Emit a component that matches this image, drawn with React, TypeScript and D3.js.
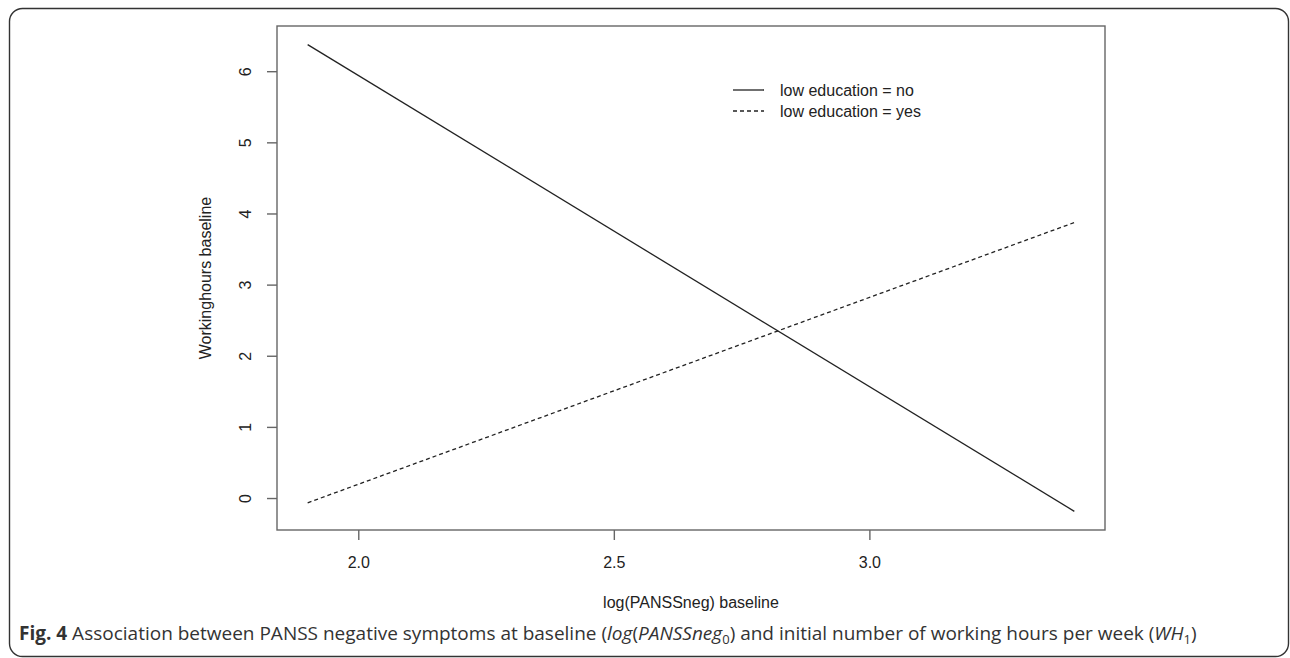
import React from "react";
import * as d3 from "d3";

// fitted lines, evaluated at the two ends of the observed range
const pansLog = [1.9, 3.4];
const lowEduNo = [6.38, -0.18];
const lowEduYes = [-0.06, 3.88];

const xTicks = [2.0, 2.5, 3.0];
const yTicks = [0, 1, 2, 3, 4, 5, 6];
const legendLabels = ["low education = no", "low education = yes"];

const W = 1290;
const H = 658;
const box = { left: 277, right: 1105, top: 26, bottom: 530 };
const axisFont = "'Liberation Sans', Arial, Helvetica, sans-serif";
const capFont = "'Open Sans', 'Noto Sans', sans-serif";

const App = () => {
    // R style: range padded by 4% on each side
    const xExt = d3.extent(pansLog) as [number, number];
    const yExt = d3.extent([...lowEduNo, ...lowEduYes]) as [number, number];
    const xPad = (xExt[1] - xExt[0]) * 0.04;
    const yPad = (yExt[1] - yExt[0]) * 0.04;

    const x = d3.scaleLinear()
        .domain([xExt[0] - xPad, xExt[1] + xPad])
        .range([box.left, box.right]);
    const y = d3.scaleLinear()
        .domain([yExt[0] - yPad, yExt[1] + yPad])
        .range([box.bottom, box.top]);

    const line = d3.line<number>()
        .x((d, i) => x(pansLog[i]))
        .y(d => y(d));

    const series = [
        { values: lowEduNo, dash: null },
        { values: lowEduYes, dash: "4,3" },
    ];

    return (
        <div style={{ position: "absolute", left: 0, top: 0 }}>
            <svg width={W} height={H} style={{ display: "block", background: "#fff" }}>
                {/* outer figure frame */}
                <rect x={9.5} y={8.5} width={1279} height={648} rx={13}
                    fill="none" stroke="#333" strokeWidth={1.4} />

                {/* plot box */}
                <rect x={box.left} y={box.top} width={box.right - box.left} height={box.bottom - box.top}
                    fill="none" stroke="#666" strokeWidth={1.4} />

                {/* y axis */}
                {yTicks.map(t => (
                    <g key={"y" + t}>
                        <line x1={box.left - 10} x2={box.left} y1={y(t)} y2={y(t)} stroke="#666" strokeWidth={1.4} />
                        <text transform={`translate(245,${y(t)}) rotate(-90)`} dy="0.35em" textAnchor="middle"
                            fontFamily={axisFont} fontSize={16} fill="#222">{t}</text>
                    </g>
                ))}
                <text transform={`translate(205,${(box.top + box.bottom) / 2}) rotate(-90)`} dy="0.35em"
                    textAnchor="middle" fontFamily={axisFont} fontSize={16} fill="#222">Workinghours baseline</text>

                {/* x axis */}
                {xTicks.map(t => (
                    <g key={"x" + t}>
                        <line x1={x(t)} x2={x(t)} y1={box.bottom} y2={box.bottom + 10} stroke="#666" strokeWidth={1.4} />
                        <text x={x(t)} y={562} dy="0.35em" textAnchor="middle"
                            fontFamily={axisFont} fontSize={16} fill="#222">{t.toFixed(1)}</text>
                    </g>
                ))}
                <text x={(box.left + box.right) / 2} y={602} dy="0.35em" textAnchor="middle"
                    fontFamily={axisFont} fontSize={16} fill="#222">log(PANSSneg) baseline</text>

                {/* lines */}
                {series.map((s, i) => (
                    <path key={i} d={line(s.values) || ""} fill="none" stroke="#222" strokeWidth={1.3}
                        strokeDasharray={s.dash || undefined} />
                ))}

                {/* legend */}
                {series.map((s, i) => (
                    <g key={"lg" + i} transform={`translate(733,${90 + i * 21})`}>
                        <line x1={0} x2={31} y1={0} y2={0} stroke="#222" strokeWidth={1.3}
                            strokeDasharray={s.dash || undefined} />
                        <text x={47} dy="0.35em" fontFamily={axisFont} fontSize={16} fill="#222">{legendLabels[i]}</text>
                    </g>
                ))}

                {/* caption */}
                <text x={19} y={633} dy="0.35em" fontFamily={capFont} fontSize={19} fill="#333">
                    <tspan fontWeight="bold">Fig. 4</tspan>
                    <tspan> Association between PANSS negative symptoms at baseline (</tspan>
                    <tspan fontStyle="italic">log</tspan>
                    <tspan>(</tspan>
                    <tspan fontStyle="italic">PANSSneg</tspan>
                    <tspan fontSize={13} dy="4">0</tspan>
                    <tspan dy="-4">) and initial number of working hours per week (</tspan>
                    <tspan fontStyle="italic">WH</tspan>
                    <tspan fontSize={13} dy="4">1</tspan>
                    <tspan dy="-4">)</tspan>
                </text>
            </svg>
        </div>
    );
};

export default App;
